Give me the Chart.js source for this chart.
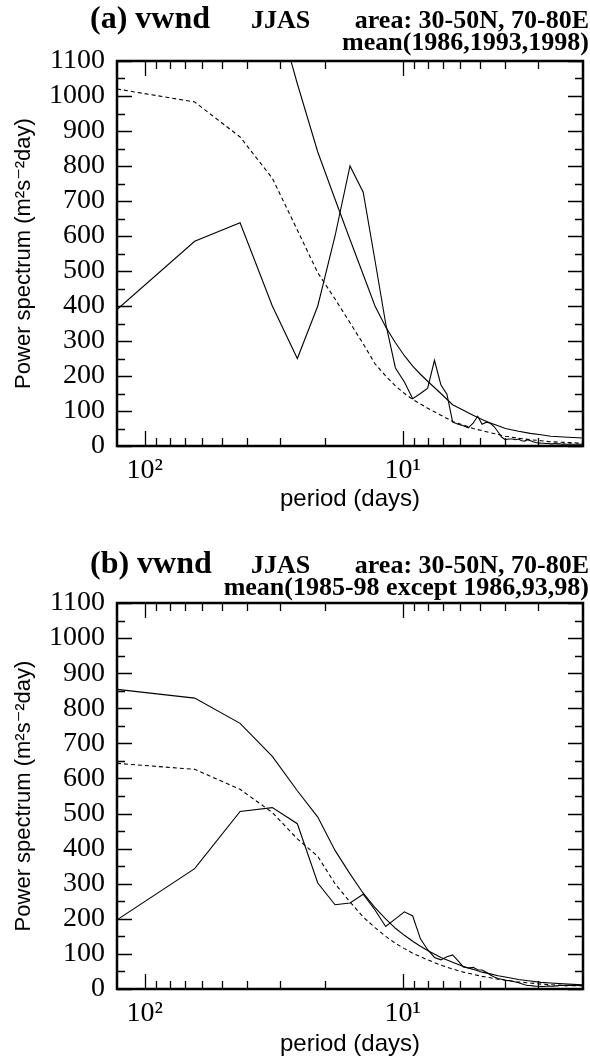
<!DOCTYPE html>
<html>
<head>
<meta charset="utf-8">
<script src="https://cdn.jsdelivr.net/npm/chart.js@4.4.1/dist/chart.umd.min.js"></script>
<style>
  body { margin: 0; background: #fff; width: 590px; height: 1059px; overflow: hidden; }
  .panel { position: absolute; left: 0; width: 590px; }
  #panelA { top: 0; height: 530px; }
  #panelB { top: 530px; height: 529px; }
</style>
</head>
<body>
<div class="panel" id="panelA"><canvas id="chartA"></canvas></div>
<div class="panel" id="panelB"><canvas id="chartB"></canvas></div>
<script>
// spectral harmonics of a 128-day record (period = 128 / k)
const recordLength = 128;
const harmonics = Array.from({ length: 64 }, (_, i) => i + 1);
const fitHarmonics = [1, 2, 3, 4, 5, 6, 7, 8, 9, 10, 11, 12, 13, 14, 15, 16, 18, 20, 22, 24, 26, 28, 30, 32, 36, 40, 44, 48, 56, 64];

// (a) mean(1986,1993,1998)
const spectrumA = [390, 585, 638, 400, 250, 400, 600, 800, 725, 530,
  350, 223, 183, 135, 150, 165, 245, 175, 148, 68,
  62, 58, 52, 65, 85, 62, 68, 65, 55, 40,
  25, 18, 20, 20, 18, 20, 15, 14, 18, 15,
  12, 10, 9, 8, 8, 7, 7, 6, 6, 7,
  6, 6, 5, 6, 5, 5, 6, 5, 5, 5,
  6, 5, 5, 5];
const redNoiseA = [1020, 983, 883, 765, 617, 495, 420, 352, 292, 235, 200, 172, 150, 133, 120, 108, 88, 70, 60, 50, 44, 38, 33, 28, 22, 18, 15, 12, 10, 8];
const signifA = [1710, 1650, 1480, 1290, 1035, 840, 705, 590, 490, 400, 340, 295, 258, 228, 205, 185, 150, 118, 102, 88, 76, 66, 58, 50, 42, 36, 32, 28, 25, 23];

// (b) mean(1985-98 except 1986,93,98)
const spectrumB = [197, 343, 506, 517, 471, 302, 240, 245, 270, 225,
  178, 200, 220, 208, 143, 112, 90, 83, 92, 97,
  80, 63, 60, 62, 55, 54, 48, 40, 34, 30,
  28, 25, 24, 22, 20, 18, 15, 12, 10, 10,
  9, 8, 8, 7, 7, 8, 9, 8, 8, 9,
  9, 10, 10, 10, 9, 10, 10, 10, 11, 10,
  10, 10, 10, 10];
const redNoiseB = [643, 626, 569, 503, 428, 378, 300, 248, 205, 175, 150, 130, 115, 102, 92, 83, 68, 57, 48, 42, 36, 32, 28, 25, 20, 17, 14, 12, 10, 9];
const signifB = [854, 829, 757, 663, 565, 490, 395, 328, 273, 232, 200, 173, 153, 136, 122, 110, 90, 76, 64, 56, 48, 43, 38, 34, 27, 23, 19, 17, 14, 12];

// axis ticks
const xLabelTicks = [100, 10];
const xLabelText = ['10²', '10¹'];
const xMinorTicks = [90, 80, 70, 60, 50, 40, 30, 20, 9, 8, 7, 6, 5, 4, 3];

const titleA = ['(a) vwnd', 'JJAS', 'area: 30-50N, 70-80E', 'mean(1986,1993,1998)'];
const titleB = ['(b) vwnd', 'JJAS', 'area: 30-50N, 70-80E', 'mean(1985-98 except 1986,93,98)'];

function toPoints(ks, values) {
  return ks.map((k, i) => ({ x: recordLength / k, y: values[i] }));
}

// frame and inward tick marks on all four sides
const frameTicks = {
  id: 'frameTicks',
  afterDatasetsDraw(chart) {
    const { ctx, chartArea: a, scales: { x, y } } = chart;
    ctx.save();
    ctx.strokeStyle = '#000';
    ctx.lineWidth = 1.3;
    ctx.beginPath();
    const yt = y.ticks.map(t => t.value);
    yt.forEach((v, i) => {
      const py = Math.round(y.getPixelForValue(v)) + 0.5;
      ctx.moveTo(a.left, py); ctx.lineTo(a.left + 15, py);
      ctx.moveTo(a.right, py); ctx.lineTo(a.right - 15, py);
      if (i < yt.length - 1) {
        const pm = Math.round(y.getPixelForValue((v + yt[i + 1]) / 2)) + 0.5;
        ctx.moveTo(a.left, pm); ctx.lineTo(a.left + 8, pm);
        ctx.moveTo(a.right, pm); ctx.lineTo(a.right - 8, pm);
      }
    });
    xLabelTicks.forEach(v => {
      const px = Math.round(x.getPixelForValue(v)) + 0.5;
      ctx.moveTo(px, a.bottom); ctx.lineTo(px, a.bottom - 15);
      ctx.moveTo(px, a.top); ctx.lineTo(px, a.top + 15);
    });
    xMinorTicks.forEach(v => {
      const px = Math.round(x.getPixelForValue(v)) + 0.5;
      ctx.moveTo(px, a.bottom); ctx.lineTo(px, a.bottom - 8);
      ctx.moveTo(px, a.top); ctx.lineTo(px, a.top + 8);
    });
    ctx.stroke();
    ctx.lineWidth = 2.5;
    ctx.strokeRect(a.left, a.top, a.right - a.left, a.bottom - a.top);
    ctx.restore();
  }
};

// panel heading drawn above the frame
const panelHeading = {
  id: 'panelHeading',
  afterDraw(chart, args, opts) {
    const { ctx } = chart;
    const t = opts.text;
    ctx.save();
    ctx.fillStyle = '#000';
    ctx.textBaseline = 'alphabetic';
    ctx.font = 'bold 32px "Liberation Serif", serif';
    ctx.textAlign = 'left';
    ctx.fillText(t[0], 90, opts.line1);
    ctx.font = 'bold 26px "Liberation Serif", serif';
    ctx.fillText(t[1], 251, opts.line1);
    ctx.textAlign = 'right';
    ctx.fillText(t[2], 589, opts.line1);
    ctx.fillText(t[3], 589, opts.line2);
    ctx.restore();
  }
};

function buildChart(canvasId, spectrum, redNoise, signif, heading, geom) {
  const ctx = document.getElementById(canvasId);
  return new Chart(ctx, {
    type: 'line',
    data: {
      datasets: [
        { data: toPoints(harmonics, spectrum), borderColor: '#000', borderWidth: 1.1 },
        { data: toPoints(fitHarmonics, redNoise), borderColor: '#000', borderWidth: 1.1, borderDash: [4, 3] },
        { data: toPoints(fitHarmonics, signif), borderColor: '#000', borderWidth: 1.1 }
      ]
    },
    options: {
      responsive: true,
      maintainAspectRatio: false,
      animation: false,
      layout: { padding: { top: geom.top, right: 7, left: 0, bottom: 0 } },
      elements: { point: { radius: 0 }, line: { tension: 0 } },
      plugins: {
        legend: { display: false },
        tooltip: { enabled: false },
        panelHeading: { text: heading, line1: geom.line1, line2: geom.line2 }
      },
      scales: {
        x: {
          type: 'logarithmic',
          reverse: true,
          min: 2,
          max: 128,
          grid: { display: false, drawTicks: false },
          border: { display: false },
          afterBuildTicks: s => { s.ticks = xLabelTicks.map(v => ({ value: v })); },
          afterFit: s => { s.height = geom.xHeight; },
          ticks: {
            autoSkip: false,
            maxRotation: 0,
            padding: 8,
            color: '#000',
            font: { family: '"Liberation Serif", serif', size: 28 },
            callback: v => xLabelText[xLabelTicks.indexOf(v)]
          },
          title: {
            display: true,
            text: 'period (days)',
            color: '#000',
            font: { family: '"Liberation Sans", sans-serif', size: 24 },
            padding: { top: 0, bottom: geom.xTitlePad }
          }
        },
        y: {
          min: 0,
          max: 1100,
          grid: { display: false, drawTicks: false },
          border: { display: false },
          afterFit: s => { s.width = 117; },
          ticks: {
            stepSize: 100,
            autoSkip: false,
            padding: 12,
            color: '#000',
            font: { family: '"Liberation Serif", serif', size: 28 },
            callback: v => String(v)
          },
          title: {
            display: true,
            text: 'Power spectrum (m²s⁻²day)',
            color: '#000',
            font: { family: '"Liberation Sans", "DejaVu Sans", sans-serif', size: 22 },
            padding: { top: 11, bottom: 0 }
          }
        }
      }
    },
    plugins: [frameTicks, panelHeading]
  });
}

buildChart('chartA', spectrumA, redNoiseA, signifA, titleA,
  { top: 61, xHeight: 84, xTitlePad: 16, line1: 28, line2: 50 });
buildChart('chartB', spectrumB, redNoiseB, signifB, titleB,
  { top: 73, xHeight: 70, xTitlePad: 0, line1: 43, line2: 65 });
</script>
</body>
</html>
